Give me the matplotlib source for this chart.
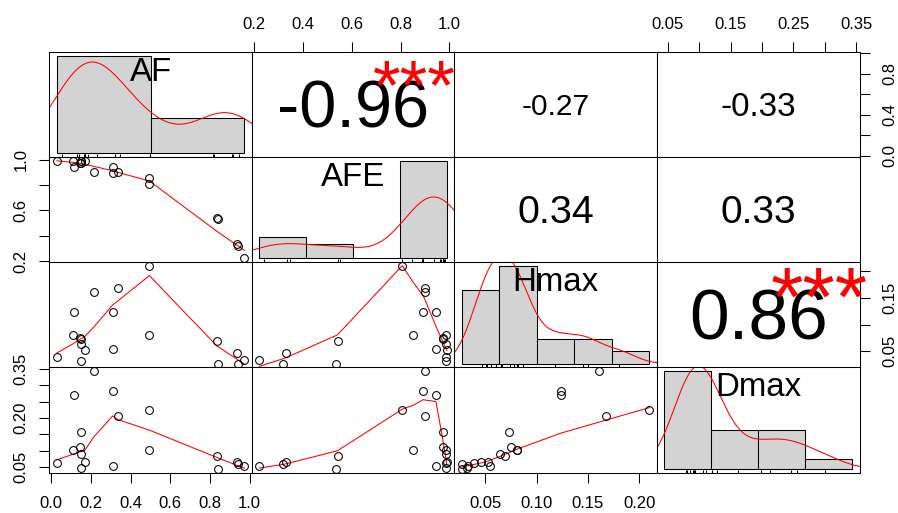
import numpy as np
import matplotlib
matplotlib.use("Agg")
import matplotlib.pyplot as plt
import matplotlib.transforms as mtransforms
from matplotlib import font_manager
from matplotlib.ft2font import FT2Font
from matplotlib.textpath import TextPath
from math import lgamma, exp, log, sqrt

plt.rcParams['font.family'] = ['Liberation Sans', 'DejaVu Sans']

# ---------------- data ----------------
names = ["AF", "AFE", "Hmax", "Dmax"]

AF = [0.028, 0.109, 0.117, 0.143, 0.148, 0.150, 0.168, 0.148, 0.215, 0.310,
      0.310, 0.336, 0.495, 0.495, 0.834, 0.839, 0.935, 0.942, 0.974]
AFE = [0.985, 0.986, 0.945, 0.975, 0.972, 0.985, 0.990, 0.985, 0.900, 0.893,
       0.945, 0.900, 0.807, 0.853, 0.542, 0.535, 0.330, 0.320, 0.221]
Hmax = [0.039, 0.081, 0.124, 0.075, 0.073, 0.064, 0.052, 0.032, 0.161, 0.124,
        0.054, 0.168, 0.210, 0.081, 0.069, 0.027, 0.046, 0.027, 0.033]
Dmax = [0.063, 0.101, 0.270, 0.113, 0.157, 0.089, 0.065, 0.048, 0.343, 0.282,
        0.055, 0.206, 0.225, 0.102, 0.083, 0.045, 0.065, 0.060, 0.055]

# histogram bin edges
af_breaks = [0.0, 0.5, 1.0]
afe_breaks = [0.2, 0.4, 0.6, 0.8, 1.0]
hmax_breaks = [0.0, 0.05, 0.10, 0.15, 0.20, 0.25]
dmax_breaks = [0.0, 0.1, 0.2, 0.3, 0.4]

# axis ticks and their labels ('' = tick without label)
af_ticks = [0.0, 0.2, 0.4, 0.6, 0.8, 1.0]
af_labels_bottom = ["0.0", "0.2", "0.4", "0.6", "0.8", "1.0"]
af_labels_right = ["0.0", "", "0.4", "", "0.8", ""]
afe_ticks = [0.2, 0.4, 0.6, 0.8, 1.0]
afe_labels_top = ["0.2", "0.4", "0.6", "0.8", "1.0"]
afe_labels_left = ["0.2", "", "0.6", "", "1.0"]
hmax_ticks = [0.05, 0.10, 0.15, 0.20]
hmax_labels_bottom = ["0.05", "0.10", "0.15", "0.20"]
hmax_labels_right = ["0.05", "", "0.15", ""]
dmax_ticks = [0.05, 0.10, 0.15, 0.20, 0.25, 0.30, 0.35]
dmax_labels_top = ["0.05", "", "0.15", "", "0.25", "", "0.35"]
dmax_labels_left = ["0.05", "", "", "0.20", "", "", "0.35"]

data = [np.array(AF), np.array(AFE), np.array(Hmax), np.array(Dmax)]
breaks = [af_breaks, afe_breaks, hmax_breaks, dmax_breaks]


# ---------------- helpers ----------------
def ext(lo, hi, f=0.04):
    d = hi - lo
    return lo - f * d, hi + f * d


def lowess(x, y, f=2 / 3, nsteps=3):
    x = np.asarray(x, float)
    y = np.asarray(y, float)
    o = np.argsort(x, kind="stable")
    x = x[o]
    y = y[o]
    n = len(x)
    delta = 0.01 * (x[-1] - x[0])
    ns = max(2, min(n, int(f * n + 1e-7)))
    ys = np.zeros(n)
    rw = np.ones(n)

    def lowest(xs, nleft, nright, userw):
        rng = x[-1] - x[0]
        h = max(xs - x[nleft], x[nright] - xs)
        h9, h1 = 0.999 * h, 0.001 * h
        w = np.zeros(n)
        a = 0.0
        j = nleft
        while j < n:
            r = abs(x[j] - xs)
            if r <= h9:
                w[j] = 1.0 if r <= h1 else (1 - (r / h) ** 3) ** 3
                if userw:
                    w[j] *= rw[j]
                a += w[j]
            elif x[j] > xs:
                break
            j += 1
        nrt = j - 1
        if a <= 0:
            return None
        sl = slice(nleft, nrt + 1)
        w[sl] /= a
        if h > 0:
            a2 = np.sum(w[sl] * x[sl])
            b = xs - a2
            c = np.sum(w[sl] * (x[sl] - a2) ** 2)
            if sqrt(c) > 0.001 * rng:
                b /= c
                w[sl] *= b * (x[sl] - a2) + 1.0
        return np.sum(w[sl] * y[sl])

    it = 1
    while it <= nsteps + 1:
        nleft, nright, last, i = 0, ns - 1, -1, 0
        while True:
            if nright < n - 1:
                if x[i] - x[nleft] > x[nright + 1] - x[i]:
                    nleft += 1
                    nright += 1
                    continue
            v = lowest(x[i], nleft, nright, it > 1)
            ys[i] = y[i] if v is None else v
            if last < i - 1:
                denom = x[i] - x[last]
                for j in range(last + 1, i):
                    al = (x[j] - x[last]) / denom
                    ys[j] = al * ys[i] + (1 - al) * ys[last]
            last = i
            cut = x[last] + delta
            i = last + 1
            while i < n:
                if x[i] > cut:
                    break
                if x[i] == x[last]:
                    ys[i] = ys[last]
                    last = i
                i += 1
            i = max(last + 1, i - 1)
            if last >= n - 1:
                break
        res = y - ys
        sc = np.sum(np.abs(res)) / n
        if it > nsteps:
            break
        r = np.abs(res)
        rs = np.sort(r)
        m1 = n // 2
        cmad = 3.0 * (rs[m1] + rs[n - m1 - 1]) if n % 2 == 0 else 6.0 * rs[m1]
        if cmad < 1e-7 * sc:
            break
        c9, c1 = 0.999 * cmad, 0.001 * cmad
        rw = np.where(r <= c1, 1.0, np.where(r <= c9, (1 - (r / cmad) ** 2) ** 2, 0.0))
        it += 1
    return x, ys


def kde(v, npts=512):
    v = np.asarray(v, float)
    n = len(v)
    sd = np.std(v, ddof=1)
    q75, q25 = np.percentile(v, [75, 25])
    lo = min(sd, (q75 - q25) / 1.34)
    if lo <= 0:
        lo = sd
    bw = 0.9 * lo * n ** (-0.2)
    gx = np.linspace(v.min() - 3 * bw, v.max() + 3 * bw, npts)
    gy = np.exp(-0.5 * ((gx[:, None] - v[None, :]) / bw) ** 2).sum(axis=1)
    gy /= n * bw * np.sqrt(2 * np.pi)
    return gx, gy


def betacf(a, b, x):
    fpmin = 1e-300
    qab, qap, qam = a + b, a + 1, a - 1
    c = 1.0
    d = 1 - qab * x / qap
    d = 1 / (d if abs(d) > fpmin else fpmin)
    h = d
    for m in range(1, 300):
        m2 = 2 * m
        aa = m * (b - m) * x / ((qam + m2) * (a + m2))
        d = 1 + aa * d
        d = 1 / (d if abs(d) > fpmin else fpmin)
        c = 1 + aa / c
        c = c if abs(c) > fpmin else fpmin
        h *= d * c
        aa = -(a + m) * (qab + m) * x / ((a + m2) * (qap + m2))
        d = 1 + aa * d
        d = 1 / (d if abs(d) > fpmin else fpmin)
        c = 1 + aa / c
        c = c if abs(c) > fpmin else fpmin
        de = d * c
        h *= de
        if abs(de - 1) < 3e-14:
            break
    return h


def betai(a, b, x):
    if x <= 0:
        return 0.0
    if x >= 1:
        return 1.0
    bt = exp(lgamma(a + b) - lgamma(a) - lgamma(b) + a * log(x) + b * log(1 - x))
    if x < (a + 1) / (a + b + 2):
        return bt * betacf(a, b, x) / a
    return 1 - bt * betacf(b, a, 1 - x) / b


def cor_test(x, y):
    r = np.corrcoef(x, y)[0, 1]
    df = len(x) - 2
    t = r * sqrt(df) / sqrt(max(1e-300, 1 - r * r))
    p = betai(df / 2, 0.5, df / (df + t * t))
    if p < 0.001:
        s = "***"
    elif p < 0.01:
        s = "**"
    elif p < 0.05:
        s = "*"
    elif p < 0.1:
        s = "."
    else:
        s = ""
    return r, s


FONT = "Liberation Sans"
fprop = font_manager.FontProperties(family=FONT)
_ft = FT2Font(font_manager.findfont(fprop))
_ft.set_size(100, 72)


def em_width(s):
    return sum(_ft.load_char(ord(ch)).linearHoriAdvance / 65536 for ch in s) / 100.0


def ink_mid(s):
    ext_ = TextPath((0, 0), s, size=100, prop=fprop).get_extents()
    return (ext_.y0 + ext_.y1) / 200.0


def centred_text(ax, x, y, s, fs_pt, color="black"):
    off = mtransforms.offset_copy(ax.transAxes, fig=ax.figure, x=0,
                                  y=-ink_mid(s) * fs_pt, units="points")
    ax.text(x, y, s, transform=off, fontsize=fs_pt, color=color,
            ha="center", va="baseline", family=FONT)


# ---------------- layout ----------------
W, H = 898, 513
DPI = 100
PX = 72.0 / DPI
fig = plt.figure(figsize=(W / DPI, H / DPI), dpi=DPI)
fig.patch.set_facecolor("white")

x0, y0 = 49.3, 51.7
pw, ph = 202.55, 105.25
nv = len(names)

LW = 1.0 * PX * 1.05
FS_TICK = 16.6 * PX
FS_LABEL = 33.0 * PX
TICK_LEN = 10 * PX
NUM_SCALE = 0.965
PAD = {"bottom": 13.0 * PX, "top": 10.0 * PX, "left": 10.6 * PX, "right": 13.0 * PX}

ranges = [ext(v.min(), v.max()) for v in data]

axis_spec = {
    (0, 1): [("top", afe_ticks, afe_labels_top)],
    (0, 3): [("top", dmax_ticks, dmax_labels_top), ("right", af_ticks, af_labels_right)],
    (1, 0): [("left", afe_ticks, afe_labels_left)],
    (2, 3): [("right", hmax_ticks, hmax_labels_right)],
    (3, 0): [("bottom", af_ticks, af_labels_bottom), ("left", dmax_ticks, dmax_labels_left)],
    (3, 2): [("bottom", hmax_ticks, hmax_labels_bottom)],
}


def add_axis(ax, side, ticks, labels):
    common = dict(length=TICK_LEN, width=LW, pad=PAD[side], labelsize=FS_TICK,
                  direction="out", color="black", labelcolor="black")
    if side in ("top", "bottom"):
        ax.set_xticks(ticks, labels)
        ax.tick_params(axis="x", top=side == "top", bottom=side == "bottom",
                       labeltop=side == "top", labelbottom=side == "bottom", **common)
    else:
        ax.set_yticks(ticks, labels)
        ax.tick_params(axis="y", left=side == "left", right=side == "right",
                       labelleft=side == "left", labelright=side == "right",
                       labelrotation=90, **common)
        for lab in ax.yaxis.get_ticklabels():
            lab.set_va("center")


for i in range(nv):
    for j in range(nv):
        left = x0 + j * pw
        top = y0 + i * ph
        ax = fig.add_axes([left / W, 1 - (top + ph) / H, pw / W, ph / H])
        for sp in ax.spines.values():
            sp.set_linewidth(LW)
            sp.set_color("black")
        ax.tick_params(which="both", bottom=False, top=False, left=False, right=False,
                       labelbottom=False, labeltop=False, labelleft=False, labelright=False)
        ax.set_xlim(ranges[j])
        ax.set_ylim(ranges[i])

        if i > j:
            # scatter with lowess smoother
            xv, yv = data[j], data[i]
            ax.plot(xv, yv, "o", ms=7.8 * PX, mfc="none", mec="black", mew=LW, zorder=3)
            lx, ly = lowess(xv, yv)
            ax.plot(lx, ly, color="red", lw=LW, zorder=2)
        elif i < j:
            r, sig = cor_test(data[j], data[i])
            txt = f"{r:.2f}"
            base_px = 0.8 * pw / em_width(txt)
            centred_text(ax, 0.5, 0.5, txt,
                         base_px * (abs(r) + 0.3) / 1.3 * PX * NUM_SCALE)
            if sig:
                centred_text(ax, 0.8, 0.8, sig, base_px * PX, color="#FF0000")
        else:
            v = data[i]
            b = np.array(breaks[i])
            counts = np.array([np.sum((v > b[k]) & (v <= b[k + 1])) +
                               (np.sum(v == b[0]) if k == 0 else 0)
                               for k in range(len(b) - 1)])
            dens = counts / (len(v) * np.diff(b))
            ax.set_xlim(ext(b[0], b[-1]))
            ax.set_ylim(ext(0, dens.max()))
            ax.bar(b[:-1], dens, width=np.diff(b), align="edge", color="#D3D3D3",
                   edgecolor="black", linewidth=LW, zorder=1)
            gx, gy = kde(v)
            ax.plot(gx, gy, color="red", lw=LW, zorder=2)
            ax.vlines(v, 0, 0.03, transform=ax.get_xaxis_transform(),
                      color="black", lw=LW, zorder=2)
            centred_text(ax, 0.5, 0.833, names[i], FS_LABEL)

        for side, ticks, labels in axis_spec.get((i, j), []):
            add_axis(ax, side, ticks, labels)

fig.savefig("out.png", dpi=DPI, facecolor="white")
